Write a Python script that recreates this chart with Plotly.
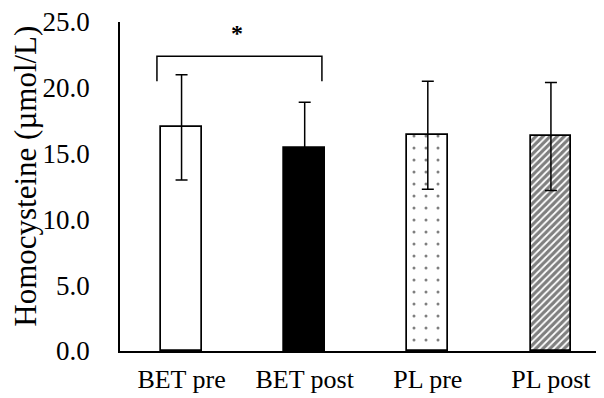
import plotly.graph_objects as go

categories = ["BET pre", "BET post", "PL pre", "PL post"]
means = [17.0, 15.4, 16.4, 16.3]
sds = [4.0, 3.5, 4.1, 4.1]
y_ticks = [0, 5, 10, 15, 20, 25]
y_tick_labels = ["0.0", "5.0", "10.0", "15.0", "20.0", "25.0"]
y_title = "Homocysteine (µmol/L)"

fills = ["white", "black", "white", "white"]
patterns = [
    dict(shape=""),
    dict(shape=""),
    dict(shape=".", fgcolor="black", bgcolor="white", size=12, solidity=0.05),
    dict(shape="/", fgcolor="black", bgcolor="white", size=5, solidity=0.65),
]

FONT = "Liberation Serif, Times New Roman, serif"

fig = go.Figure()
for i, c in enumerate(categories):
    fig.add_trace(go.Bar(
        x=[i], y=[means[i]],
        width=0.33,
        marker=dict(color=fills[i], line=dict(color="black", width=1.7),
                    pattern=patterns[i]),
        error_y=dict(type="data", array=[sds[i]], symmetric=True,
                     color="black", thickness=1.5, width=6),
        showlegend=False,
    ))

# significance bracket between BET pre and BET post
top = max(m + s for m, s in zip(means[:2], sds[:2]))
b_low, b_high = top - 0.5, top + 1.4
x0, x1 = 0 - 0.2, 1 + 0.14
fig.add_shape(type="path",
              path=f"M {x0} {b_low} L {x0} {b_high} L {x1} {b_high} L {x1} {b_low}",
              line=dict(color="black", width=1.5), xref="x", yref="y")
fig.add_annotation(x=(x0 + x1) / 2 - 0.02, y=b_high + 1.8, text="<b>*</b>",
                   showarrow=False, font=dict(family=FONT, size=24, color="black"),
                   xref="x", yref="y")

# y-axis title
fig.add_annotation(x=-0.194, y=0.53, xref="paper", yref="paper",
                   text=y_title, textangle=-90, showarrow=False,
                   xanchor="center", yanchor="middle",
                   font=dict(family=FONT, size=31, color="black"))

fig.update_layout(
    width=596, height=390,
    margin=dict(l=112, r=0, t=14, b=47),
    paper_bgcolor="white", plot_bgcolor="white",
    font=dict(family=FONT, color="black"),
    bargap=0,
)
fig.update_xaxes(
    range=[-0.5, 3.431],
    tickvals=list(range(len(categories))), ticktext=categories,
    showline=True, linecolor="black", linewidth=1.5,
    showgrid=False, zeroline=False, ticks="",
    tickfont=dict(family=FONT, size=26, color="black"),
    ticklabelstandoff=4,
)
fig.update_yaxes(
    range=[0, 25],
    tickvals=y_ticks, ticktext=y_tick_labels,
    showline=True, linecolor="black", linewidth=1.5,
    showgrid=False, zeroline=False, ticks="",
    tickfont=dict(family=FONT, size=27, color="black"),
    ticklabelstandoff=23,
    ticklabeloverflow="allow",
    automargin=False,
)

fig.write_html("out.html")
